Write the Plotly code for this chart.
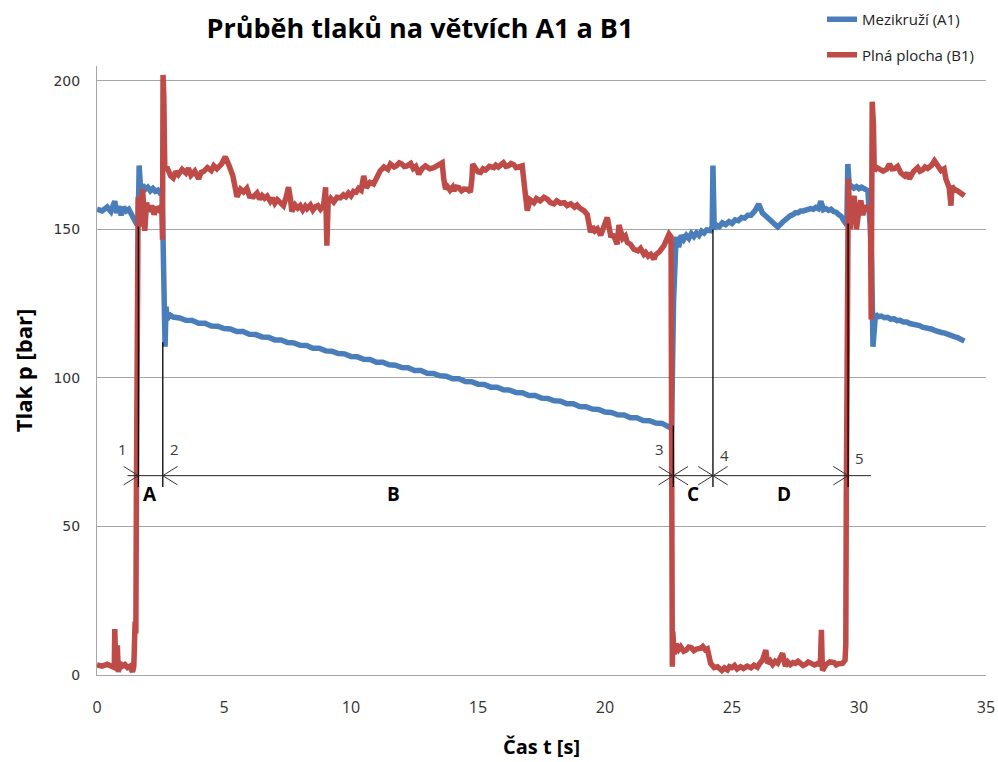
import plotly.graph_objects as go

# ---------------- data ----------------
blue_t = [0.0, 0.2, 0.4, 0.55, 0.7, 0.78, 0.85, 0.95, 1.05, 1.15, 1.25, 1.35, 1.45, 1.55, 1.62,
          1.66, 1.72, 1.8, 1.9, 2.0, 2.1, 2.2, 2.3, 2.4, 2.5, 2.56, 2.6, 2.63, 2.66, 2.68, 2.72, 2.76,
          2.82, 3.0, 3.25, 3.5, 3.75, 4.0, 4.25, 4.5, 4.75, 5.0, 5.25, 5.5, 5.75, 6.0, 6.25, 6.5, 6.75,
          7.0, 7.25, 7.5, 7.75, 8.0, 8.25, 8.5, 8.75, 9.0, 9.25, 9.5, 9.75, 10.0, 10.25, 10.5, 10.75,
          11.0, 11.25, 11.5, 11.75, 12.0, 12.25, 12.5, 12.75, 13.0, 13.25, 13.5, 13.75, 14.0, 14.25,
          14.5, 14.75, 15.0, 15.25, 15.5, 15.75, 16.0, 16.25, 16.5, 16.75, 17.0, 17.25, 17.5, 17.75,
          18.0, 18.25, 18.5, 18.75, 19.0, 19.25, 19.5, 19.75, 20.0, 20.25, 20.5, 20.75, 21.0, 21.25,
          21.5, 21.75, 22.0, 22.25, 22.5,
          22.62, 22.7, 22.75, 22.8, 22.9, 23.0, 23.1, 23.2, 23.3, 23.4, 23.5, 23.6, 23.7, 23.8, 23.9,
          24.0, 24.15, 24.22, 24.25, 24.3, 24.4, 24.5, 24.62, 24.75, 24.88, 25.0, 25.12, 25.25, 25.38,
          25.5, 25.62, 25.75, 25.9, 26.05, 26.2, 26.4, 26.6, 26.8, 27.0, 27.1, 27.2, 27.3, 27.4, 27.5,
          27.6, 27.7, 27.8, 27.9, 28.0, 28.1, 28.2, 28.3, 28.4, 28.5, 28.6, 28.7, 28.8, 28.9, 29.0,
          29.1, 29.2, 29.3, 29.4, 29.52,
          29.56, 29.62, 29.7, 29.8, 29.9, 30.0, 30.1, 30.2, 30.35, 30.45, 30.5, 30.55, 30.6, 30.65,
          30.75, 30.88, 31.0, 31.12, 31.25, 31.38, 31.5, 31.62, 31.75, 31.88, 32.0, 32.12, 32.25,
          32.38, 32.5, 32.62, 32.75, 32.88, 33.0, 33.12, 33.25, 33.38, 33.5, 33.62, 33.75, 33.88,
          34.0, 34.15]
blue_p = [156.8, 156.2, 157.5, 156.0, 159.5, 155.5, 157.8, 154.8, 157.5, 156.2, 156.8, 155.0, 153.5, 152.0, 151.8,
          171.5, 163.0, 165.0, 163.5, 164.2, 163.0, 163.8, 162.8, 163.2, 162.0, 161.5, 147.0, 130.0, 122.0, 110.5, 124.0, 119.5,
          121.5, 120.5, 120.2, 119.4, 119.3, 118.4, 118.4, 117.5, 117.4, 116.6, 116.5, 115.6, 115.6, 114.7, 114.6, 113.8, 113.7,
          112.8, 112.8, 111.9, 111.8, 111.0, 110.9, 110.0, 110.0, 109.1, 109.0, 108.2, 108.1, 107.2, 107.1, 106.3, 106.2,
          105.3, 105.3, 104.4, 104.3, 103.5, 103.4, 102.5, 102.5, 101.6, 101.5, 100.7, 100.6, 99.7, 99.7,
          98.8, 98.7, 97.9, 97.8, 96.9, 96.9, 96.0, 95.9, 95.1, 95.0, 94.1, 94.1, 93.2, 93.1,
          92.3, 92.2, 91.3, 91.3, 90.4, 90.3, 89.5, 89.4, 88.5, 88.4, 87.6, 87.5, 86.6, 86.6,
          85.7, 85.6, 84.8, 84.7, 83.8,
          83.0, 126.0, 140.0, 147.5, 144.0, 148.0, 146.6, 148.0, 147.0, 148.6, 147.6, 148.8, 148.0, 149.4, 148.8,
          149.8, 149.6, 151.0, 171.5, 150.2, 151.4, 150.9, 152.2, 151.6, 152.6, 152.0, 153.2, 152.9, 154.0,
          153.8, 154.8, 154.8, 156.2, 158.5, 155.5, 154.0, 152.0, 150.8, 152.5, 153.4, 154.0, 154.6, 155.0, 155.6,
          155.6, 156.2, 156.2, 156.6, 156.6, 157.0, 156.8, 157.4, 157.0, 159.5, 156.6, 157.0, 156.4, 156.8, 156.0,
          155.8, 155.0, 154.4, 153.0, 151.5,
          172.0, 164.0, 164.6, 163.9, 164.4, 163.7, 164.2, 163.8, 163.0, 150.0, 138.0, 110.5, 119.0, 121.5,
          120.6, 120.8, 120.3, 120.4, 119.8, 119.9, 119.3, 119.4, 118.8, 118.8, 118.3, 118.2, 117.7,
          117.6, 117.1, 117.0, 116.5, 116.4, 115.9, 115.8, 115.3, 115.1, 114.6, 114.4, 113.9, 113.6,
          113.0, 112.4]

red_t = [0.0, 0.2, 0.4, 0.6, 0.68, 0.7, 0.74, 0.8, 0.84, 0.9, 1.0, 1.1, 1.2, 1.3, 1.4, 1.45, 1.5, 1.53,
         1.55, 1.58, 1.62, 1.68, 1.74, 1.8, 1.88, 1.95, 2.05, 2.15, 2.25, 2.35, 2.45, 2.55, 2.58, 2.6, 2.63,
         2.67, 2.75, 2.9, 3.0, 3.1, 3.2, 3.35, 3.5, 3.6, 3.7, 3.85, 4.0, 4.1, 4.2, 4.35, 4.5, 4.6, 4.72,
         4.9, 5.05, 5.2, 5.35, 5.51, 5.65, 5.77, 5.9, 6.0, 6.16, 6.3, 6.4, 6.5, 6.6, 6.7, 6.82, 6.9, 7.0,
         7.1, 7.2, 7.34, 7.45, 7.54, 7.62, 7.67, 7.8, 7.9, 8.0, 8.1, 8.2, 8.27, 8.4, 8.5, 8.6, 8.7, 8.8,
         8.92, 9.0, 9.05, 9.1, 9.2, 9.32, 9.45, 9.58, 9.7, 9.8, 9.9, 10.0, 10.1, 10.2, 10.3, 10.4, 10.5,
         10.6, 10.75, 10.89, 11.0, 11.15, 11.3, 11.45, 11.55, 11.7, 11.8, 11.9, 12.0, 12.1, 12.21,
         12.35, 12.45, 12.55, 12.67, 12.8, 12.93, 13.1, 13.26, 13.45, 13.59, 13.65, 13.72, 13.8, 13.9,
         14.0, 14.05, 14.15, 14.25, 14.35, 14.44, 14.6, 14.7, 14.76, 14.79, 14.9, 15.0, 15.1, 15.2,
         15.3, 15.45, 15.62, 15.7, 15.8, 15.9, 16.0, 16.1, 16.2, 16.3, 16.41, 16.5, 16.6, 16.74, 16.87,
         16.94, 17.05, 17.2, 17.3, 17.45, 17.6, 17.73, 17.85, 17.99, 18.1, 18.25, 18.4, 18.51, 18.65,
         18.8, 18.9, 19.0, 19.17, 19.3, 19.43, 19.5, 19.6, 19.7, 19.83, 19.92, 20.02, 20.09, 20.22,
         20.35, 20.48, 20.55, 20.7, 20.8, 20.88, 21.0, 21.14, 21.3, 21.4, 21.53, 21.6, 21.7, 21.8,
         21.93, 22.0, 22.15, 22.32, 22.45, 22.52, 22.6, 22.62,
         22.65, 22.67, 22.72, 22.8, 22.9, 22.98, 23.1, 23.2, 23.3, 23.4, 23.5, 23.6, 23.77, 23.85, 23.95,
         24.03, 24.16, 24.3, 24.43, 24.6, 24.7, 24.82, 24.9, 25.0, 25.1, 25.2, 25.34, 25.45, 25.6,
         25.75, 25.87, 26.0, 26.1, 26.2, 26.33, 26.4, 26.5, 26.6, 26.7, 26.8, 26.99, 27.1, 27.2, 27.3,
         27.4, 27.5, 27.6, 27.71, 27.8, 27.9, 28.0, 28.1, 28.25, 28.37, 28.48, 28.52, 28.56, 28.7,
         28.85, 29.02, 29.1, 29.2, 29.35, 29.45,
         29.48, 29.5, 29.53, 29.58, 29.65, 29.72, 29.81, 29.9, 30.0, 30.07, 30.15, 30.25, 30.34, 30.45,
         30.48, 30.52, 30.57, 30.6, 30.7, 30.8, 30.95, 31.1, 31.2, 31.3, 31.4, 31.52, 31.65, 31.8,
         31.9, 31.98, 32.05, 32.15, 32.31, 32.4, 32.5, 32.6, 32.7, 32.85, 32.97, 33.1, 33.23, 33.35,
         33.42, 33.55, 33.62, 33.66, 33.75, 33.88, 34.0, 34.15]
red_p = [3.4, 3.0, 3.6, 3.0, 2.5, 15.5, 2.0, 10.0, 1.0, 4.0, 3.0, 3.5, 2.5, 3.0, 1.0, 3.0, 18.0, 14.0,
         60.0, 130.0, 161.0, 151.0, 162.0, 163.5, 149.5, 159.0, 156.0, 158.0, 155.0, 157.5, 156.5, 158.0, 146.5, 202.0, 195.0,
         170.0, 171.0, 168.0, 167.3, 169.5, 168.4, 170.2, 169.0, 170.6, 168.2, 169.6, 167.0, 169.2, 169.5, 170.8, 169.8, 171.4, 170.4,
         172.0, 174.4, 171.5, 168.0, 161.0, 163.5, 162.6, 163.8, 161.2, 161.0, 162.2, 160.2, 161.4, 160.5, 161.2, 159.5, 160.6, 158.8,
         160.0, 159.2, 158.0, 161.0, 164.2, 160.0, 156.0, 158.2, 157.2, 158.0, 156.5, 157.8, 157.0, 158.2, 156.5, 157.6, 158.0, 156.8,
         158.0, 164.2, 144.5, 159.0, 160.4, 159.2, 160.8, 160.6, 161.6, 161.0, 162.2, 161.3, 162.8, 162.5, 163.8, 163.2, 168.0,
         164.0, 165.8, 165.3, 167.5, 169.7, 171.0, 170.2, 172.0, 171.0, 171.5, 172.4, 172.0, 171.2, 171.4,
         172.2, 170.5, 171.2, 168.6, 170.5, 171.4, 170.4, 170.8, 171.5, 172.4, 167.0, 163.6, 164.4, 163.2,
         164.2, 163.0, 164.2, 164.0, 163.0, 163.6, 163.5, 162.5, 167.0, 172.0, 170.5, 169.4, 169.2, 170.4,
         170.0, 171.2, 170.8, 171.6, 171.0, 172.0, 172.4, 171.2, 171.4, 172.2, 171.8, 170.8, 171.2, 171.4, 161.3,
         156.3, 160.0, 159.0, 160.4, 159.6, 160.8, 160.2, 159.0, 158.6, 159.6, 158.8, 159.0, 158.0, 158.6,
         157.5, 158.2, 157.2, 156.3, 155.0, 149.0, 151.0, 149.5, 150.2, 148.0, 150.0, 153.5, 154.0, 148.0,
         147.8, 145.0, 151.5, 147.0, 147.8, 145.6, 145.0, 143.3, 142.8, 143.6, 141.6, 142.2, 141.0, 141.6,
         140.0, 141.5, 142.5, 144.5, 147.0, 148.4, 147.5, 100.0,
         2.8, 14.6, 7.0, 10.5, 8.6, 9.5, 8.0, 8.4, 9.4, 9.2, 8.2, 8.7, 9.0, 9.6, 8.5,
         8.8, 3.9, 2.5, 2.8, 1.5, 2.4, 1.7, 2.8, 2.5, 3.2, 2.0, 2.8, 2.2, 3.0,
         2.4, 3.3, 2.6, 4.0, 5.0, 8.4, 4.0, 4.8, 3.5, 4.6, 4.0, 7.3, 3.0, 4.4, 3.5,
         4.2, 3.9, 4.6, 3.9, 3.2, 3.6, 4.4, 4.0, 3.4, 3.9, 3.5, 15.2, 1.5, 3.5,
         4.4, 4.2, 3.4, 3.8, 3.9, 5.0,
         10.0, 60.0, 140.0, 167.0, 150.0, 158.0, 161.3, 150.0, 157.0, 159.8, 154.8, 158.0, 157.0, 156.0,
         119.7, 193.0, 185.0, 169.7, 170.8, 170.5, 169.6, 170.3, 172.0, 170.4, 170.5, 171.2, 169.0, 168.0,
         169.0, 167.0, 168.4, 169.5, 170.8, 169.6, 170.0, 171.0, 170.5, 171.5, 173.1, 171.5, 169.8, 170.4,
         167.0, 164.0, 158.0, 164.6, 163.5, 163.0, 162.2, 161.3]

# phase boundaries (points 1..5) and annotation data
event_t = [1.63, 2.59, 22.69, 24.25, 29.57]
event_top = [151, 112, 84, 150, 152]
event_names = ["1", "2", "3", "4", "5"]
event_label_t = [0.99, 3.07, 22.15, 24.71, 30.0]
event_label_p = [76, 76, 76, 74, 73]
dim_p = 67.1
dim_start, dim_end = 1.2, 30.47
# arrow directions at each point: ">" tip from left, "<" tip from right
arrow_dirs = [[">"], ["<"], [">", "<"], [">", "<"], [">"]]
phase_names = ["A", "B", "C", "D"]
phase_label_t = [2.09, 11.67, 23.45, 27.04]
phase_label_p = 61

y_ticks = [0, 50, 100, 150, 200]
x_ticks = [0, 5, 10, 15, 20, 25, 30, 35]

BLUE = "#4A7EBB"
RED = "#BE4B48"

fig = go.Figure()
fig.add_trace(go.Scatter(x=blue_t, y=blue_p, mode="lines", name="Mezikruží (A1)",
                         line=dict(color=BLUE, width=5.5), legendgroup="a"))
fig.add_trace(go.Scatter(x=red_t, y=red_p, mode="lines", name="Plná plocha (B1)",
                         line=dict(color=RED, width=5.5), legendgroup="b"))

# extension lines
vx, vy = [], []
for t, top in zip(event_t, event_top):
    vx += [t, t, None]
    vy += [dim_p - 3.8, top, None]
fig.add_trace(go.Scatter(x=vx, y=vy, mode="lines", line=dict(color="black", width=1.3),
                         showlegend=False, hoverinfo="skip"))
# dimension line
fig.add_trace(go.Scatter(x=[dim_start, dim_end], y=[dim_p, dim_p], mode="lines",
                         line=dict(color="#222222", width=1), showlegend=False, hoverinfo="skip"))
# arrow heads
ax_, ay_ = [], []
dt, dp = 0.58, 3.1
for t, dirs in zip(event_t, arrow_dirs):
    for d in dirs:
        s = -1 if d == ">" else 1
        ax_ += [t + s * dt, t, t + s * dt, None]
        ay_ += [dim_p + dp, dim_p, dim_p - dp, None]
fig.add_trace(go.Scatter(x=ax_, y=ay_, mode="lines", line=dict(color="#333333", width=1),
                         showlegend=False, hoverinfo="skip"))

annotations = []
for name, t, p in zip(event_names, event_label_t, event_label_p):
    annotations.append(dict(x=t, y=p, text=name, showarrow=False,
                            font=dict(family="Open Sans", size=15, color="#3a3a3a")))
for name, t in zip(phase_names, phase_label_t):
    annotations.append(dict(x=t, y=phase_label_p, text="<b>" + name + "</b>", showarrow=False,
                            font=dict(family="Open Sans", size=19, color="black")))

FIG_W, FIG_H = 998, 762
fig.update_layout(
    width=FIG_W, height=FIG_H,
    margin=dict(l=97, r=12, t=66, b=87, autoexpand=False),
    paper_bgcolor="white", plot_bgcolor="white",
    title=dict(text="<b>Průběh tlaků na větvích A1 a B1</b>", x=420 / FIG_W, xanchor="center",
               xref="container", yref="container", y=1 - 29 / FIG_H, yanchor="middle",
               pad=dict(t=0, b=0, l=0, r=0),
               font=dict(family="Open Sans", size=27, color="black")),
    xaxis=dict(range=[0, 35], tickvals=x_ticks, showgrid=False, zeroline=False,
               showline=True, linecolor="#A6A6A6", linewidth=1, ticks="",
               ticklabelstandoff=18, automargin=False, ticklabeloverflow="allow",
               tickfont=dict(family="Open Sans", size=16, color="#333333"),
               title=dict(text="<b>Čas t [s]</b>", standoff=22,
                          font=dict(family="Open Sans", size=20, color="black"))),
    yaxis=dict(range=[0, 205], tickvals=y_ticks, showgrid=True, gridcolor="#A6A6A6", gridwidth=1,
               zeroline=False, showline=True, linecolor="#A6A6A6", linewidth=1, ticks="",
               ticklabelstandoff=13, automargin=False,
               tickfont=dict(family="DejaVu Sans", size=14, color="#333333"),
               title=dict(text="<b>Tlak p [bar]</b>", standoff=14,
                          font=dict(family="Open Sans", size=22, color="black"))),
    legend=dict(x=(822 - 97) / 889, y=1 + (66 - 3) / 609, xanchor="left", yanchor="top",
                bgcolor="rgba(0,0,0,0)", tracegroupgap=13,
                font=dict(family="Open Sans", size=15, color="#222222")),
    annotations=annotations,
    showlegend=True,
)

# remove the browser's default 8 px body margin so the 998x762 figure fills the window exactly
fig.write_html("out.html", config={"displayModeBar": False},
               post_script="document.body.style.margin='0';document.body.style.overflow='hidden';")
